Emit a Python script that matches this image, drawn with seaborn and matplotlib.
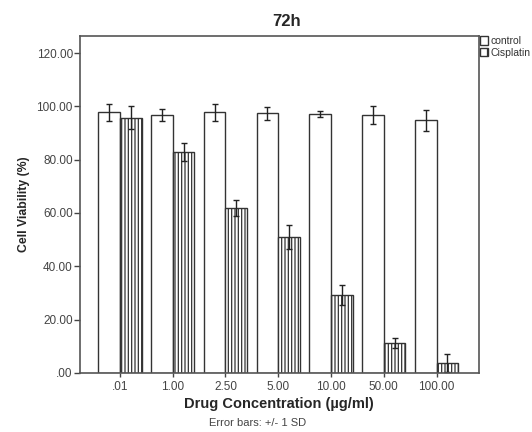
import matplotlib
matplotlib.use("Agg")
import matplotlib.pyplot as plt
import seaborn as sns
import pandas as pd
import numpy as np

concentrations = [".01", "1.00", "2.50", "5.00", "10.00", "50.00", "100.00"]
control_mean = [97.8, 96.7, 97.8, 97.4, 97.1, 96.7, 94.8]
control_sd = [3.1, 2.2, 3.1, 2.5, 1.2, 3.4, 3.9]
cis_mean = [95.8, 83.0, 61.7, 51.0, 29.2, 11.3, 3.7]
cis_sd = [4.4, 3.4, 3.0, 4.6, 3.7, 1.9, 3.4]
groups = ["control", "Cisplatin"]
y_ticks = [0, 20, 40, 60, 80, 100, 120]
y_tick_labels = [".00", "20.00", "40.00", "60.00", "80.00", "100.00", "120.00"]

sns.set_theme(style="white")
plt.rcParams["font.family"] = ["Liberation Sans", "DejaVu Sans"]
plt.rcParams["hatch.color"] = "#333333"
plt.rcParams["hatch.linewidth"] = 0.9

df = pd.DataFrame({
    "conc": concentrations * 2,
    "group": [groups[0]] * len(concentrations) + [groups[1]] * len(concentrations),
    "value": control_mean + cis_mean,
    "sd": control_sd + cis_sd,
})

fig = plt.figure(figsize=(5.32, 4.32), dpi=100)
ax = fig.add_axes([0.150, 0.137, 0.750, 0.780])

sns.barplot(data=df, x="conc", y="value", hue="group", order=concentrations,
            hue_order=groups, palette=["white", "white"], width=0.82,
            errorbar=None, edgecolor="#333333", linewidth=1.0, ax=ax,
            legend=True)

n = len(concentrations)
edge = "#333333"
for i, p in enumerate(ax.patches[:2 * n]):
    gi = i // n
    if gi == 1:
        p.set_hatch("|||||")
    p.set_edgecolor(edge)

# error bars from patch positions
for i, p in enumerate(ax.patches[:2 * n]):
    gi, ci = divmod(i, n)
    sd = control_sd[ci] if gi == 0 else cis_sd[ci]
    xc = p.get_x() + p.get_width() / 2
    ax.errorbar(xc, p.get_height(), yerr=sd, fmt="none", ecolor="#222222",
                elinewidth=1.0, capsize=2.5, capthick=1.0)

ax.set_ylim(0, 126.5)
ax.set_xlim(-0.76, 6.80)
ax.set_yticks(y_ticks)
ax.set_yticklabels(y_tick_labels)
ax.tick_params(axis="y", left=True, length=4, width=1, color="#444444",
               labelsize=8.5, labelcolor="#444444", pad=1)
ax.tick_params(axis="x", bottom=True, length=3, width=1, color="#444444",
               labelsize=8.5, labelcolor="#444444", pad=3)
for s in ax.spines.values():
    s.set_color("#555555")
    s.set_linewidth(1.2)

ax.set_title("72h", fontsize=12, fontweight="bold", pad=7, x=0.518)
ax.set_ylabel("Cell Viability (%)", fontsize=8.8, fontweight="bold", labelpad=5)
ax.set_xlabel("Drug Concentration (µg/ml)", fontsize=10.5, fontweight="bold",
              labelpad=3)
fig.text(258 / 532, 1 - 423 / 432, "Error bars: +/- 1 SD", ha="center",
         va="center", fontsize=8, color="#444444")

handles, labels = ax.get_legend_handles_labels()
for h, g in zip(handles, groups):
    h.set_edgecolor(edge)
    if g == "Cisplatin":
        h.set_hatch("||")
leg = ax.legend(handles, labels, loc="upper left",
                bbox_to_anchor=(480 / 532, 1 - 36 / 432),
                bbox_transform=fig.transFigure,
                frameon=False, fontsize=7.5, handlelength=0.8, handleheight=0.9,
                handletextpad=0.25, labelspacing=0.15, borderaxespad=0,
                borderpad=0)
for t in leg.get_texts():
    t.set_color("#333333")

fig.savefig("out.png", dpi=100, facecolor="white")
